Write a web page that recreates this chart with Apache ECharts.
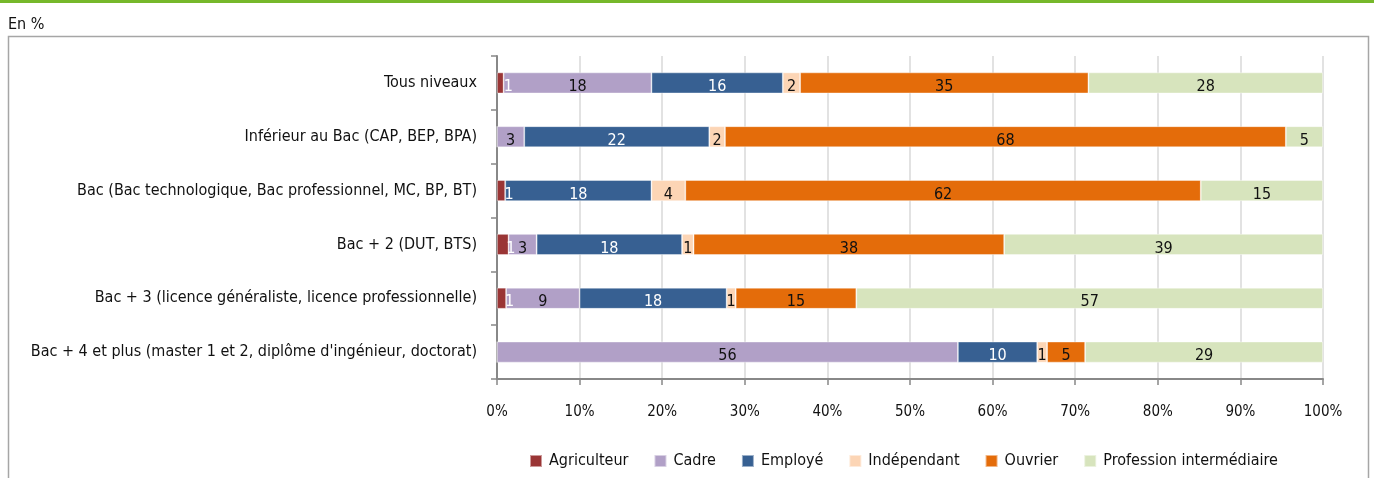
<!DOCTYPE html>
<html><head><meta charset="utf-8">
<script src="https://cdn.jsdelivr.net/npm/echarts@6/dist/echarts.min.js"></script>
<style>html,body{margin:0;padding:0;background:#fff}#c{width:1374px;height:478px}</style>
</head><body><div id="c"></div>
<script>
const categories = [
  "Tous niveaux",
  "Inférieur au Bac (CAP, BEP, BPA)",
  "Bac (Bac technologique, Bac professionnel, MC, BP, BT)",
  "Bac + 2 (DUT, BTS)",
  "Bac + 3 (licence généraliste, licence professionnelle)",
  "Bac + 4 et plus (master 1 et 2, diplôme d'ingénieur, doctorat)"
];
const agriculteur = [0.8, 0, 1.0, 1.4, 1.1, 0];
const cadre = [17.9, 3.3, 0, 3.4, 8.9, 55.8];
const employe = [15.9, 22.4, 17.7, 17.6, 17.8, 9.6];
const independant = [2.1, 1.9, 4.1, 1.4, 1.1, 1.2];
const ouvrier = [34.9, 67.9, 62.4, 37.6, 14.6, 4.6];
const profession = [28.4, 4.5, 14.8, 38.6, 56.5, 28.8];
const xTicks = ["0%","10%","20%","30%","40%","50%","60%","70%","80%","90%","100%"];

const FONT = '"Liberation Sans Narrow","DejaVu Sans Condensed",sans-serif';
const seriesDefs = [
  {name: "Agriculteur", data: agriculteur, color: "#9a3535", text: "#fff", offset: [8, 4]},
  {name: "Cadre", data: cadre, color: "#b1a0c7", text: "#111", offset: [0, 4]},
  {name: "Employé", data: employe, color: "#376092", text: "#fff", offset: [0, 4]},
  {name: "Indépendant", data: independant, color: "#fcd5b5", text: "#111", offset: [0, 4]},
  {name: "Ouvrier", data: ouvrier, color: "#e46c0a", text: "#111", offset: [0, 4]},
  {name: "Profession intermédiaire", data: profession, color: "#d7e4bd", text: "#111", offset: [0, 4]}
];

const chart = echarts.init(document.getElementById('c'), null, {renderer: 'canvas'});
chart.setOption({
  animation: false,
  textStyle: {fontFamily: FONT},
  graphic: [
    {type: 'rect', shape: {x: 0, y: 0, width: 1374, height: 3}, style: {fill: '#76b82a'}},
    {type: 'rect', shape: {x: 8.5, y: 36.5, width: 1360, height: 460}, style: {fill: 'none', stroke: '#a6a6a6', lineWidth: 1.5}},
    {type: 'text', left: 8, top: 17, style: {text: 'En %', font: '16px ' + FONT, fill: '#111'}}
  ],
  grid: {left: 497, right: 51, top: 56, bottom: 99, containLabel: false},
  legend: {
    bottom: 4, left: 524,
    itemWidth: 12, itemHeight: 12, itemGap: 25,
    icon: 'rect',
    textStyle: {fontFamily: FONT, fontSize: 16, color: '#111', padding: [0, 0, 0, 2]},
    data: seriesDefs.map(s => s.name)
  },
  xAxis: {
    type: 'value', min: 0, max: 100, interval: 10,
    axisLine: {show: true, lineStyle: {color: '#888', width: 2}},
    axisTick: {show: true, length: 6, lineStyle: {color: '#888', width: 1.5}},
    splitLine: {show: true, lineStyle: {color: '#d9d9d9', width: 1.5}},
    axisLabel: {margin: 26, fontSize: 15, color: '#111', fontFamily: FONT,
      formatter: (v) => xTicks[Math.round(v / 10)]}
  },
  yAxis: {
    type: 'category', data: categories, inverse: true,
    axisLine: {show: true, lineStyle: {color: '#888', width: 2}},
    axisTick: {show: true, length: 6, lineStyle: {color: '#888', width: 1.5}},
    axisLabel: {margin: 20, fontSize: 16, color: '#111', fontFamily: FONT}
  },
  series: seriesDefs.map(s => ({
    name: s.name, type: 'bar', stack: 'total', barWidth: 21,
    data: s.data,
    itemStyle: {color: s.color, borderColor: 'rgba(255,255,255,0.5)', borderWidth: 0.8},
    label: {
      show: true, position: 'inside', offset: s.offset,
      color: s.text, fontSize: 16, fontFamily: FONT,
      formatter: (p) => p.value > 0 ? String(Math.round(p.value)) : ''
    }
  }))
});
</script></body></html>
